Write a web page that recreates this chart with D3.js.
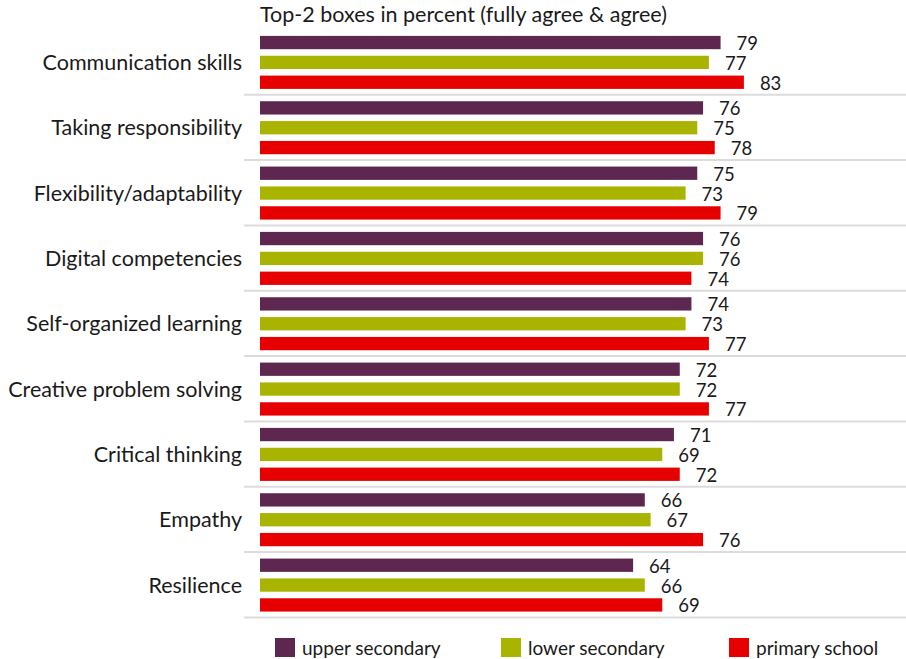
<!DOCTYPE html>
<html>
<head>
<meta charset="utf-8">
<script src="https://cdn.jsdelivr.net/npm/d3@7"></script>
<style>
  html, body { margin: 0; padding: 0; background: #fff; }
  svg { display: block; }
  text { font-family: Lato, "Open Sans", "DejaVu Sans", sans-serif; fill: #1a1a1a; }
</style>
</head>
<body>
<svg id="chart" width="906" height="659"></svg>
<script>
// Skills rated as important, top-2 boxes in percent
const categories = [
  "Communication skills",
  "Taking responsibility",
  "Flexibility/adaptability",
  "Digital competencies",
  "Self-organized learning",
  "Creative problem solving",
  "Critical thinking",
  "Empathy",
  "Resilience"
];
const seriesNames = ["upper secondary", "lower secondary", "primary school"];
const upperSecondary = [79, 76, 75, 76, 74, 72, 71, 66, 64];
const lowerSecondary = [77, 75, 73, 76, 73, 72, 69, 67, 66];
const primarySchool  = [83, 78, 79, 74, 77, 77, 72, 76, 69];
const seriesColors = ["#5e2750", "#a8b400", "#e60000"];
const titleText = "Top-2 boxes in percent (fully agree & agree)";

const series = [upperSecondary, lowerSecondary, primarySchool];
const rows = categories.map((c, i) => ({
  category: c,
  values: series.map((s, k) => ({ key: seriesNames[k], value: s[i], color: seriesColors[k] }))
}));

const svg = d3.select("#chart");

const x = d3.scaleLinear().domain([0, 100]).range([260, 843]);
const y = d3.scaleBand().domain(categories).range([29.4, 617.4]).paddingInner(0).paddingOuter(0);
const inner = d3.scaleBand().domain(seriesNames).range([6.5, 59.5]).paddingInner(0.33);

// title
svg.append("text")
  .attr("x", 260).attr("y", 22)
  .attr("font-size", 21.5)
  .text(titleText);

// group separators
svg.append("g").selectAll("line")
  .data(categories)
  .join("line")
  .attr("x1", 244).attr("x2", 906)
  .attr("y1", d => y(d) + y.bandwidth())
  .attr("y2", d => y(d) + y.bandwidth())
  .attr("stroke", "#dcdcdc").attr("stroke-width", 2);

const groups = svg.append("g").selectAll("g")
  .data(rows)
  .join("g")
  .attr("transform", d => `translate(0,${y(d.category)})`);

// category labels
groups.append("text")
  .attr("x", 242)
  .attr("y", inner("lower secondary") + inner.bandwidth() / 2)
  .attr("dy", "0.35em")
  .attr("text-anchor", "end")
  .attr("font-size", 21.5)
  .text(d => d.category);

// bars
groups.selectAll("rect")
  .data(d => d.values)
  .join("rect")
  .attr("x", x(0))
  .attr("y", d => inner(d.key))
  .attr("width", d => x(d.value) - x(0))
  .attr("height", inner.bandwidth())
  .attr("fill", d => d.color);

// value labels
groups.selectAll("text.val")
  .data(d => d.values)
  .join("text")
  .attr("class", "val")
  .attr("x", d => x(d.value) + 16)
  .attr("y", d => inner(d.key) + inner.bandwidth() / 2 + 1)
  .attr("dy", "0.35em")
  .attr("font-size", 18.5)
  .text(d => d.value);

// legend
const legendX = [275, 501, 729];
const legend = svg.append("g").selectAll("g")
  .data(seriesNames)
  .join("g")
  .attr("transform", (d, i) => `translate(${legendX[i]},638)`);
legend.append("rect")
  .attr("width", 20).attr("height", 19)
  .attr("fill", (d, i) => seriesColors[i]);
legend.append("text")
  .attr("x", 27).attr("y", 10)
  .attr("dy", "0.35em")
  .attr("font-size", 19)
  .text(d => d);
</script>
</body>
</html>
